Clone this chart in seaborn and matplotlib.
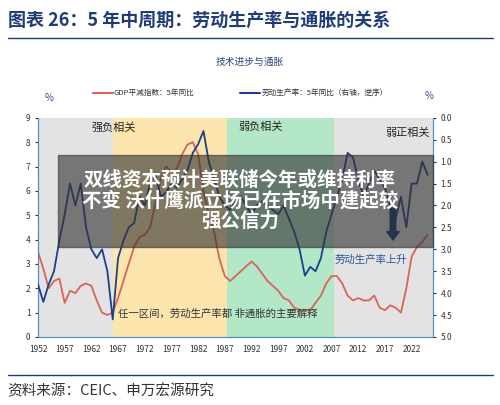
import matplotlib
matplotlib.use("Agg")
import matplotlib.pyplot as plt
import seaborn as sns
import pandas as pd
from matplotlib.patches import Rectangle

sns.set_style("white")
plt.rcParams['font.family'] = ['Noto Sans CJK SC', 'DejaVu Sans']

# 数据
years = list(range(1952, 2026))
gdp_deflator = [3.5, 2.8, 2.0, 2.3, 2.4, 1.4, 1.9, 1.8, 2.1, 2.2, 2.1, 1.5, 1.0, 0.9,
                1.0, 1.6, 2.3, 3.0, 3.7, 4.1, 4.2, 4.5, 5.5, 6.5, 7.0, 6.8, 6.9, 7.5,
                7.9, 8.0, 7.5, 6.0, 5.0, 4.3, 3.2, 2.5, 2.3, 2.5, 2.7, 2.9, 3.1, 2.9,
                2.6, 2.3, 2.1, 1.9, 1.6, 1.5, 1.2, 1.1, 1.1, 1.1, 1.4, 1.7, 2.2, 2.5,
                2.5, 2.2, 1.7, 1.5, 1.6, 1.5, 1.5, 1.7, 1.2, 1.1, 1.3, 1.2, 1.0, 2.0,
                3.3, 3.7, 3.9, 4.2]
productivity = [3.8, 4.2, 3.8, 3.5, 2.8, 2.2, 1.5, 2.0, 1.5, 2.5, 3.0, 3.2, 3.0, 3.5,
                4.6, 3.2, 2.8, 2.5, 2.4, 1.8, 2.0, 1.5, 1.3, 1.8, 1.7, 1.5, 1.6, 1.4,
                1.2, 0.8, 0.6, 0.3, 1.0, 1.4, 1.8, 2.0, 2.1, 1.9, 1.8, 2.0, 2.2, 2.0,
                1.9, 2.0, 2.1, 2.2, 2.0, 2.3, 2.6, 3.0, 3.6, 3.4, 3.5, 3.2, 2.6, 2.2,
                1.8, 1.4, 0.8, 0.9, 1.4, 1.8, 1.5, 1.2, 1.4, 1.6, 2.0, 2.3, 1.8, 2.5,
                1.5, 1.5, 1.0, 1.3]
regions = [(1952, 1966, '#e3e3e3'), (1966, 1987.5, '#fde6ad'),
           (1987.5, 2007.5, '#b4e6c8'), (2007.5, 2026, '#e3e3e3')]
xticks = list(range(1952, 2026, 5))

df = pd.DataFrame({'year': years, 'gdp': gdp_deflator, 'prod': productivity})

fig = plt.figure(figsize=(5, 4.05), dpi=100)
ax = fig.add_axes([0.076, 0.168, 0.79, 0.541])
for x0, x1, c in regions:
    ax.axvspan(x0, x1, color=c, lw=0, zorder=0)
ax.text(1962, 8.6, '强负相关', fontsize=8, va='center')
ax.text(1989.5, 8.65, '弱负相关', fontsize=8, va='center')
ax.text(2025.5, 8.4, '弱正相关', fontsize=8, va='center', ha='right')

sns.lineplot(data=df, x='year', y='gdp', ax=ax, color='#d9645a', lw=1.3, zorder=3)
ax.set_xlim(1952, 2026)
ax.set_ylim(0, 9)
ax.set_xticks(xticks)
ax.set_yticks(range(10))
ax.tick_params(labelsize=6, length=2, colors='#333333')
ax.set_xlabel('')
ax.set_ylabel('')
ax2 = ax.twinx()
sns.lineplot(data=df, x='year', y='prod', ax=ax2, color='#1f3f8c', lw=1.3, zorder=3)
ax2.set_ylim(5, 0)
ax2.set_yticks([i * 0.5 for i in range(11)])
ax2.set_yticklabels([f'{i * 0.5:.1f}' for i in range(11)])
ax2.tick_params(labelsize=6, length=2, colors='#333333')
ax2.set_ylabel('')
for a in (ax, ax2):
    for s in a.spines.values():
        s.set_color('#4a90c8')
        s.set_linewidth(0.8)
    a.spines['top'].set_visible(False)

ax2.annotate('', xy=(2018.5, 2.85), xytext=(2018.5, 2.0),
             arrowprops=dict(arrowstyle='simple,head_width=0.9,head_length=0.6,tail_width=0.4',
                             color='#15336b'))
ax2.text(2007.5, 3.25, '劳动生产率上升', fontsize=7.5, color='#2a55a0', va='center')
ax.text(1967, 0.95, '任一区间，劳动生产率都 非通胀的主要解释', fontsize=7.5, color='#333333', va='center')

fig.text(0.5, 0.84, '技术进步与通胀', fontsize=7, color='#2c4a80', ha='center')
fig.text(0.09, 0.75, '%', fontsize=7, color='#2c4a80')
fig.text(0.85, 0.755, '%', fontsize=7, color='#2c4a80')
fig.lines.append(plt.Line2D([0.185, 0.225], [0.77, 0.77], color='#d9645a', lw=1.5, transform=fig.transFigure))
fig.text(0.228, 0.77, 'GDP平减指数：5年同比', fontsize=5.5, color='#333333', va='center')
fig.lines.append(plt.Line2D([0.48, 0.52], [0.77, 0.77], color='#1f3f8c', lw=1.5, transform=fig.transFigure))
fig.text(0.523, 0.77, '劳动生产率：5年同比（右轴，逆序）', fontsize=5.5, color='#333333', va='center')

fig.text(0.015, 0.95, '图表 26：5 年中周期：劳动生产率与通胀的关系', fontsize=13,
         color='#1f3c78', fontweight='bold', va='center')
fig.lines.append(plt.Line2D([0.015, 0.985], [0.905, 0.905], color='#1f3c78', lw=1, transform=fig.transFigure))
fig.lines.append(plt.Line2D([0.015, 0.985], [0.075, 0.075], color='#1f3c78', lw=1, transform=fig.transFigure))
fig.text(0.015, 0.035, '资料来源：CEIC、申万宏源研究', fontsize=10.5, color='#333333', va='center')

# 新闻标题遮罩
fig.patches.append(Rectangle((0.116, 0.39), 0.75, 0.228, transform=fig.transFigure,
                             color='#333333', alpha=0.62, zorder=10))
fig.text(0.48, 0.505, '双线资本预计美联储今年或维持利率\n不变 沃什鹰派立场已在市场中建起较\n强公信力',
         fontsize=14, color='white', fontweight='bold', ha='center', va='center',
         linespacing=1.05, zorder=11)

fig.savefig('out.png', dpi=100)
